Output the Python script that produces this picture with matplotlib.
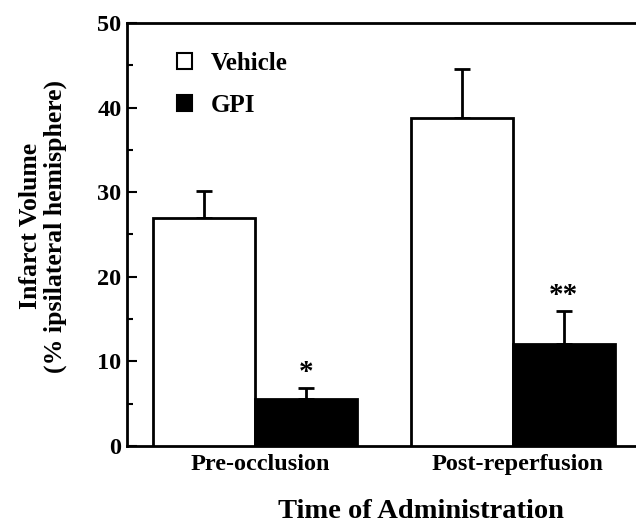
import matplotlib
matplotlib.use("Agg")
import matplotlib.pyplot as plt
from matplotlib.patches import Patch
from matplotlib.ticker import MultipleLocator
from matplotlib.transforms import ScaledTranslation
import numpy as np

categories = ["Pre-occlusion", "Post-reperfusion"]
vehicle = [26.9, 38.8]
vehicle_err = [3.3, 5.8]
gpi = [5.5, 12.0]
gpi_err = [1.4, 4.0]
stars = ["*", "**"]

plt.rcParams['font.family'] = ['Liberation Serif', 'DejaVu Serif']
plt.rcParams['font.weight'] = 'bold'

fig = plt.figure(figsize=(6.36, 5.23), dpi=100)
ax = fig.add_axes([127/636, 77/523, 1 - 127/636, 423/523])

x = np.arange(len(categories))
w = 0.395
ax.bar(x - w/2, vehicle, w, color='white', edgecolor='black', linewidth=2, zorder=3)
ax.bar(x + w/2, gpi, w, color='black', edgecolor='black', linewidth=2, zorder=3)
ax.errorbar(x - w/2, vehicle, yerr=[np.zeros(2), vehicle_err], fmt='none', ecolor='black',
            elinewidth=2, capsize=6, capthick=2, zorder=2)
ax.errorbar(x + w/2, gpi, yerr=[np.zeros(2), gpi_err], fmt='none', ecolor='black',
            elinewidth=2, capsize=6, capthick=2, zorder=2)
for xi, v, e, s in zip(x, gpi, gpi_err, stars):
    ax.annotate(s, (xi + w/2, v + e), xytext=(0, 1), textcoords='offset points',
                ha='center', va='bottom', fontsize=21, fontweight='bold')

ax.set_xlim(-0.496, 1.477)
ax.set_ylim(0, 50)
ax.set_xticks(x)
ax.set_xticklabels(categories, fontsize=17.5, fontweight='bold')
ax.tick_params(axis='x', length=0, pad=6)
shift = ScaledTranslation(5/100, 0, fig.dpi_scale_trans)
for lab in ax.get_xticklabels():
    lab.set_transform(lab.get_transform() + shift)
ax.yaxis.set_major_locator(MultipleLocator(10))
ax.yaxis.set_minor_locator(MultipleLocator(5))
ax.tick_params(axis='y', which='major', direction='in', length=7, width=1.5, labelsize=17.5, pad=4)
ax.tick_params(axis='y', which='minor', direction='in', length=4, width=1.5)
for lab in ax.get_yticklabels():
    lab.set_fontweight('bold')
for sp in ['left', 'bottom', 'top']:
    ax.spines[sp].set_linewidth(2)
ax.spines['right'].set_visible(False)

ax.set_ylabel("Infarct Volume\n(% ipsilateral hemisphere)", fontsize=18.5, fontweight='bold',
              linespacing=1.1)
ax.yaxis.set_label_coords(-0.118, 0.52)
ax.set_xlabel("Time of Administration", fontsize=20.5, fontweight='bold')
ax.xaxis.set_label_coords(0.578, -0.125)

handles = [Patch(facecolor='white', edgecolor='black', linewidth=1.5),
           Patch(facecolor='black', edgecolor='black', linewidth=1.5)]
ax.legend(handles, ["Vehicle", "GPI"], loc='upper left', bbox_to_anchor=(0.055, 0.985),
          frameon=False, handlelength=0.6, handleheight=0.6,
          handletextpad=0.75, labelspacing=0.75, prop={'weight': 'bold', 'size': 18})

fig.savefig("out.png", dpi=100)
